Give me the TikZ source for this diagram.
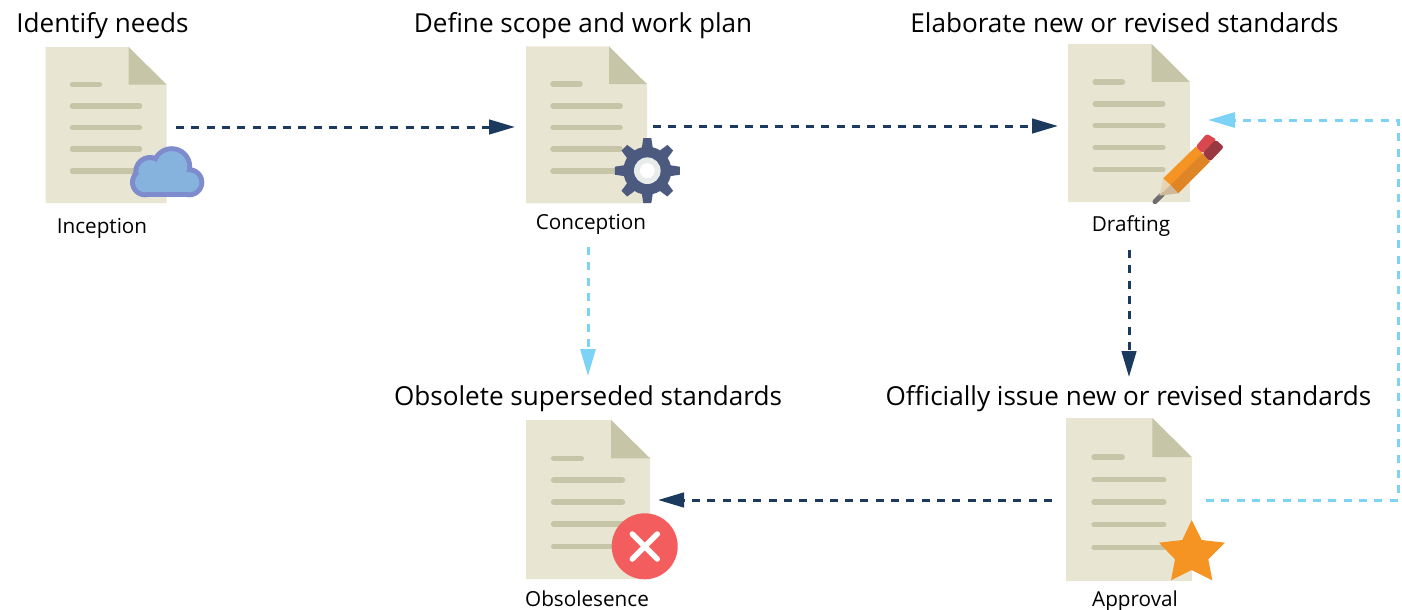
\documentclass[tikz,border=0pt]{standalone}
\usepackage{fontspec}
\setmainfont{Open Sans}
\usetikzlibrary{arrows.meta}

\definecolor{pagefill}{HTML}{E8E6D2}
\definecolor{pageline}{HTML}{C6C5A7}
\definecolor{flownavy}{HTML}{1B3A5D}
\definecolor{flowblue}{HTML}{7DD3F5}
\definecolor{cloudedge}{HTML}{7E8CCE}
\definecolor{cloudfill}{HTML}{86B3DE}
\definecolor{gearblue}{HTML}{4C5A80}
\definecolor{gearhub}{HTML}{E8ECEA}
\definecolor{crossred}{HTML}{F35D5D}
\definecolor{starorange}{HTML}{F59323}
\definecolor{pencillight}{HTML}{F59323}
\definecolor{pencildark}{HTML}{E08526}
\definecolor{eraserlight}{HTML}{D9484E}
\definecolor{eraserdark}{HTML}{993841}
\definecolor{woodlight}{HTML}{E8D3B3}
\definecolor{wooddark}{HTML}{CDB899}
\definecolor{leadgray}{HTML}{6D6D6D}

\newcommand{\docpage}[4]{
\begin{scope}[shift={(#1,#2)},xscale=#3,yscale=#4]
\fill [pagefill] (0,0) -- (83,0) -- (121,37.5) -- (121,156) -- (0,156) -- cycle;
\fill [pageline] (83,0) -- (121,37.5) -- (83,37.5) -- cycle;
\draw [pageline,line width=5.5,line cap=round] (27,37.5) -- (54,37.5);
\foreach \liney in {59,80.5,102,124} {
\draw [pageline,line width=5.5,line cap=round] (27,\liney) -- (94,\liney);
}
\end{scope}
}

\begin{document}
\begin{tikzpicture}[x=1pt,y=-1pt,
headtext/.style={font=\fontsize{26.1}{30}\selectfont,text=black,inner sep=0pt,anchor=base},
steptext/.style={font=\fontsize{20.7}{24}\selectfont,text=black,inner sep=0pt,anchor=base},
docport/.style={inner sep=0pt,outer sep=0pt},
navyflow/.style={flownavy,line width=3,dash pattern=on 8pt off 7.3pt,-{Triangle[length=26pt,width=14.5pt]}},
blueflow/.style={flowblue,line width=3,dash pattern=on 8pt off 7.3pt,-{Triangle[length=27pt,width=15pt]}}]

\useasboundingbox (0,0) rectangle (1402,610);

\docpage{45.5}{47}{1}{1}
\docpage{526}{46.5}{1}{1.006}
\docpage{1068}{44}{1.008}{1.013}
\docpage{526}{420}{1.025}{1.02}
\docpage{1066}{418}{1.04}{1.045}

\node [docport,minimum width=140,minimum height=140] (inception) at (106,127) {};
\node [docport,minimum width=138,minimum height=240] (conception) at (584,127) {};
\node [docport,minimum width=142,minimum height=248] (drafting) at (1129,126) {};
\node [docport,minimum width=140,minimum height=246] (obsolesence) at (588,499) {};
\node [docport,minimum width=154,minimum height=246] (approval) at (1129,500) {};
\coordinate (returnend) at (1208,120);
\coordinate (returnturn) at (1398,500);

\draw [navyflow] (inception.east) -- (conception.west);
\draw [navyflow] (conception.east |- drafting.west) -- (drafting.west);
\draw [navyflow] (drafting.south) -- (approval.north);
\draw [navyflow] (approval.west) -- (obsolesence.east |- approval.west);
\draw [blueflow] (conception.south -| obsolesence.north) -- (obsolesence.north);
\draw [blueflow] (approval.east) -- (returnturn) -- (returnturn |- returnend) -- (returnend);

\node [headtext] (needs) at (102.5,33) {Identify needs};
\node [headtext] (scope) at (583,33) {Define scope and work plan};
\node [headtext] (elaborate) at (1124.5,33) {Elaborate new or revised standards};
\node [headtext] (superseded) at (588,405) {Obsolete superseded standards};
\node [headtext] (issue) at (1128.5,405) {Officially issue new or revised standards};
\node [steptext] (inceptiontext) at (102,233) {Inception};
\node [steptext] (conceptiontext) at (591,229) {Conception};
\node [steptext] (draftingtext) at (1131,231) {Drafting};
\node [steptext] (obsolesencetext) at (587,606) {Obsolesence};
\node [steptext] (approvaltext) at (1135,606) {Approval};

\foreach \cloudcolor/\inset in {cloudedge/0,cloudfill/5} {
\fill [\cloudcolor] (171.7,166.7) circle (20.5-\inset);
\fill [\cloudcolor] (150,171.7) circle (16.7-\inset);
\fill [\cloudcolor] (145,182.3) circle (15-\inset);
\fill [\cloudcolor] (189.3,182.3) circle (15-\inset);
\fill [\cloudcolor] (145,167.3+\inset) rectangle (189.3,197.3-\inset);
}

\foreach \toothangle in {0,45,...,315} {
\fill [gearblue,rotate around={\toothangle:(647.3,170.7)}] (641.5,150) -- (643.3,138.2) -- (651.3,138.2) -- (653.1,150) -- cycle;
}
\fill [gearblue] (647.3,170.7) circle (24);
\fill [gearhub] (647.3,170.7) circle (13.3);
\fill [white] (647.3,170.7) circle (7.5);

\begin{scope}[shift={(1150,125)},x=0.3333pt,y=-0.3333pt]
\draw [leadgray,line width=5,line cap=round] (15,230) -- (37,208);
\fill [woodlight] (40,160) -- (62,180) -- (28,212) -- cycle;
\fill [wooddark] (62,180) -- (85,205) -- (28,212) -- cycle;
\fill [pencillight] (40,160) -- (137,65) -- (157,85) -- (62,180) -- cycle;
\fill [pencildark] (62,180) -- (157,85) -- (180,110) -- (85,205) -- cycle;
\fill [eraserlight,rounded corners=2.5pt] (137,65) -- (170,26) -- (200,44) -- (157,85) -- cycle;
\fill [eraserdark,rounded corners=2.5pt] (157,85) -- (197,44) -- (222,66) -- (180,110) -- cycle;
\end{scope}

\fill [crossred] (644.7,546.3) circle (33);
\draw [white,line width=5.5,line cap=round] (632.3,534) -- (657.3,559);
\draw [white,line width=5.5,line cap=round] (657.3,534) -- (632.3,559);

\fill [starorange] (1191.7,520) -- (1201.7,540) -- (1225,542.7) -- (1208.3,559.3) -- (1212.3,580.3) -- (1191.7,570) -- (1171,580.3) -- (1175,559.3) -- (1159,542.7) -- (1182.3,540) -- cycle;

\end{tikzpicture}
\end{document}
